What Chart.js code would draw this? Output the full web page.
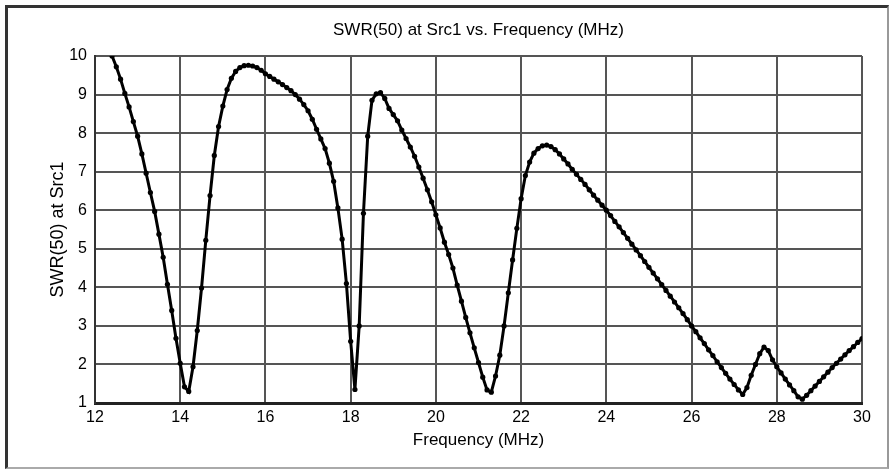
<!DOCTYPE html>
<html lang="en">
<head>
    <meta charset="UTF-8">
    <title>SWR(50) at Src1 vs. Frequency (MHz)</title>
    <script src="https://cdn.jsdelivr.net/npm/chart.js"></script>
    <style>
        html, body { margin: 0; padding: 0; background: #fff; }
        #wrap { position: relative; width: 892px; height: 471px; overflow: hidden; }
        #frame {
            position: absolute; left: 5px; top: 5px; width: 879px; height: 459px;
            border-top: 3px solid #333; border-left: 3px solid #333;
            border-right: 2px solid #999; border-bottom: 2px solid #aaa;
            pointer-events: none;
        }
    </style>
</head>
<body>
    <div id="wrap">
        <canvas id="chartCanvas" width="892" height="471"></canvas>
        <div id="frame"></div>
    </div>

    <script>
        // frequency grid of the sweep (MHz)
        const freqMHz = [
            12.4, 12.5, 12.6, 12.7, 12.8, 12.9,
            13.0, 13.1, 13.2, 13.3, 13.4, 13.5, 13.6, 13.7, 13.8, 13.9,
            14.0, 14.1, 14.2, 14.3, 14.4, 14.5, 14.6, 14.7, 14.8, 14.9,
            15.0, 15.1, 15.2, 15.3, 15.4, 15.5, 15.6, 15.7, 15.8, 15.9,
            16.0, 16.1, 16.2, 16.3, 16.4, 16.5, 16.6, 16.7, 16.8, 16.9,
            17.0, 17.1, 17.2, 17.3, 17.4, 17.5, 17.6, 17.7, 17.8, 17.9,
            18.0, 18.1, 18.2, 18.3, 18.4, 18.5, 18.6, 18.7, 18.8, 18.9,
            19.0, 19.1, 19.2, 19.3, 19.4, 19.5, 19.6, 19.7, 19.8, 19.9,
            20.0, 20.1, 20.2, 20.3, 20.4, 20.5, 20.6, 20.7, 20.8, 20.9,
            21.0, 21.1, 21.2, 21.3, 21.4, 21.5, 21.6, 21.7, 21.8, 21.9,
            22.0, 22.1, 22.2, 22.3, 22.4, 22.5, 22.6, 22.7, 22.8, 22.9,
            23.0, 23.1, 23.2, 23.3, 23.4, 23.5, 23.6, 23.7, 23.8, 23.9,
            24.0, 24.1, 24.2, 24.3, 24.4, 24.5, 24.6, 24.7, 24.8, 24.9,
            25.0, 25.1, 25.2, 25.3, 25.4, 25.5, 25.6, 25.7, 25.8, 25.9,
            26.0, 26.1, 26.2, 26.3, 26.4, 26.5, 26.6, 26.7, 26.8, 26.9,
            27.0, 27.1, 27.2, 27.3, 27.4, 27.5, 27.6, 27.7, 27.8, 27.9,
            28.0, 28.1, 28.2, 28.3, 28.4, 28.5, 28.6, 28.7, 28.8, 28.9,
            29.0, 29.1, 29.2, 29.3, 29.4, 29.5, 29.6, 29.7, 29.8, 29.9,
            30.0
        ];

        // SWR, same order as freqMHz
        const swr = [
            10.0, 9.72, 9.40, 9.03, 8.68, 8.30,
            7.92, 7.46, 6.96, 6.46, 5.97, 5.38, 4.78, 4.08, 3.40, 2.68,
            2.03, 1.42, 1.30, 1.94, 2.88, 3.98, 5.22, 6.38, 7.42, 8.17,
            8.70, 9.13, 9.42, 9.60, 9.70, 9.75, 9.76, 9.74, 9.70, 9.63,
            9.54, 9.47, 9.40, 9.33, 9.26, 9.18, 9.10, 9.00, 8.88, 8.74,
            8.58, 8.36, 8.10, 7.85, 7.60, 7.22, 6.75, 6.06, 5.25, 4.10,
            2.60, 1.35, 3.00, 5.92, 7.92, 8.85, 9.02, 9.05, 8.90, 8.64,
            8.48, 8.32, 8.08, 7.86, 7.64, 7.40, 7.12, 6.83, 6.53, 6.22,
            5.88, 5.54, 5.17, 4.85, 4.50, 4.06, 3.64, 3.22, 2.82, 2.43,
            2.05, 1.67, 1.34, 1.28, 1.70, 2.24, 3.00, 3.86, 4.71, 5.53,
            6.30, 6.90, 7.25, 7.48, 7.60, 7.67, 7.69, 7.65, 7.57, 7.46,
            7.33, 7.20, 7.06, 6.93, 6.80, 6.67, 6.53, 6.39, 6.26, 6.13,
            6.00, 5.86, 5.71, 5.57, 5.42, 5.27, 5.12, 4.97, 4.82, 4.67,
            4.52, 4.37, 4.22, 4.07, 3.92, 3.77, 3.62, 3.47, 3.32, 3.16,
            3.00, 2.85, 2.69, 2.54, 2.38, 2.23, 2.07, 1.92, 1.77, 1.62,
            1.48, 1.34, 1.22, 1.40, 1.72, 2.00, 2.28, 2.45, 2.36, 2.12,
            1.94, 1.78, 1.62, 1.47, 1.32, 1.16, 1.10, 1.20, 1.32, 1.44,
            1.56, 1.68, 1.80, 1.92, 2.03, 2.14, 2.25, 2.36, 2.46, 2.57,
            2.67
        ];

        const xTicks = [12, 14, 16, 18, 20, 22, 24, 26, 28, 30];
        const yTicks = [1, 2, 3, 4, 5, 6, 7, 8, 9, 10];

        const fontFamily = "'Liberation Sans', Arial, sans-serif";
        const textColor = '#000';
        const gridColor = '#555';

        const ctx = document.getElementById('chartCanvas').getContext('2d');

        const chart = new Chart(ctx, {
            type: 'line',
            data: {
                datasets: [{
                    label: 'SWR(50) at Src1',
                    data: freqMHz.map((f, i) => ({ x: f, y: swr[i] })),
                    borderColor: '#000',
                    borderWidth: 3,
                    pointRadius: 2.6,
                    pointBackgroundColor: '#000',
                    pointBorderWidth: 0,
                    tension: 0,
                    fill: false,
                }],
            },
            options: {
                responsive: false,
                devicePixelRatio: 1,
                animation: false,
                layout: { padding: { left: 8, right: 30, top: 8, bottom: 8 } },
                plugins: {
                    legend: { display: false },
                    tooltip: { enabled: false },
                    title: {
                        display: true,
                        fullSize: false,  // centre over the plot area, like the original
                        text: 'SWR(50) at Src1 vs. Frequency (MHz)',
                        color: textColor,
                        font: { family: fontFamily, size: 17, weight: 'normal', lineHeight: 1.2 },
                        padding: { top: 11.8, bottom: 15.8 },
                    },
                },
                scales: {
                    x: {
                        type: 'linear',
                        min: 12,
                        max: 30,
                        afterBuildTicks: scale => { scale.ticks = xTicks.map(v => ({ value: v })); },
                        afterFit: scale => { scale.height = 60; },
                        ticks: {
                            color: textColor,
                            font: { family: fontFamily, size: 16 },
                            padding: 5,
                            maxRotation: 0,
                        },
                        grid: { color: gridColor, lineWidth: 2, drawTicks: false },
                        border: { display: true, color: '#222', width: 3 },
                        title: {
                            display: true,
                            text: 'Frequency (MHz)',
                            color: textColor,
                            font: { family: fontFamily, size: 17, lineHeight: 1.2 },
                            padding: { top: 0, bottom: 12 },
                        },
                    },
                    y: {
                        type: 'linear',
                        min: 1,
                        max: 10,
                        afterBuildTicks: scale => { scale.ticks = yTicks.map(v => ({ value: v })); },
                        afterFit: scale => { scale.width = 87; },
                        ticks: {
                            color: textColor,
                            font: { family: fontFamily, size: 16 },
                            padding: 8,
                        },
                        grid: { color: gridColor, lineWidth: 2, drawTicks: false },
                        border: { display: true, color: '#333', width: 2 },
                        title: {
                            display: true,
                            text: 'SWR(50) at Src1',
                            color: textColor,
                            font: { family: fontFamily, size: 18, lineHeight: 1.2 },
                            padding: { top: 39, bottom: 0 },
                        },
                    },
                },
            },
        });
    </script>
</body>
</html>
